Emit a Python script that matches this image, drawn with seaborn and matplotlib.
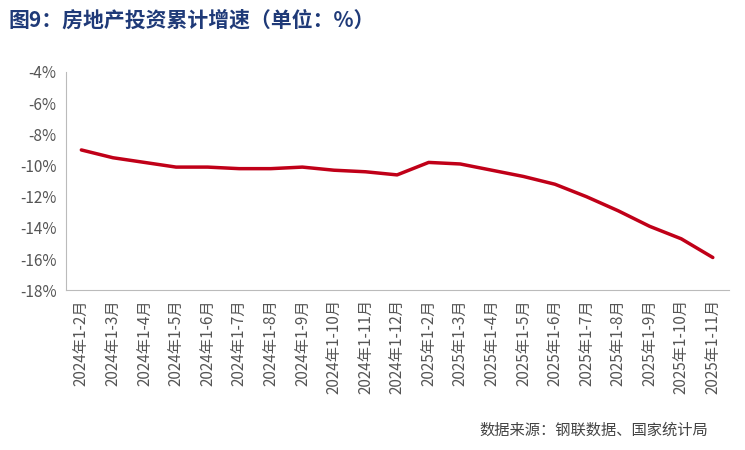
import matplotlib
matplotlib.use("Agg")
import matplotlib.pyplot as plt
import seaborn as sns
import pandas as pd

months = ["2024年1-2月","2024年1-3月","2024年1-4月","2024年1-5月","2024年1-6月","2024年1-7月",
          "2024年1-8月","2024年1-9月","2024年1-10月","2024年1-11月","2024年1-12月",
          "2025年1-2月","2025年1-3月","2025年1-4月","2025年1-5月","2025年1-6月","2025年1-7月",
          "2025年1-8月","2025年1-9月","2025年1-10月","2025年1-11月"]
values = [-9.0,-9.5,-9.8,-10.1,-10.1,-10.2,-10.2,-10.1,-10.3,-10.4,-10.6,
          -9.8,-9.9,-10.3,-10.7,-11.2,-12.0,-12.9,-13.9,-14.7,-15.9]
yticks = [-4,-6,-8,-10,-12,-14,-16,-18]

sns.set_style("white")
plt.rcParams['font.family'] = ['Noto Sans CJK SC', 'DejaVu Sans']

df = pd.DataFrame({"x": range(len(months)), "y": values})
fig = plt.figure(figsize=(7.45, 4.5), dpi=100)
ax = fig.add_axes([0.088, 0.355, 0.89, 0.485])
sns.lineplot(data=df, x="x", y="y", ax=ax, color="#c00018", linewidth=2.5)
ax.set_xlim(-0.5, len(months)-0.5)
ax.set_ylim(-18, -4)
ax.set_yticks(yticks)
ax.set_yticklabels([f"{t}%" for t in yticks], color="#555555", fontsize=11)
ax.set_xticks(range(len(months)))
ax.set_xticklabels(months, rotation=90, color="#555555", fontsize=11)
ax.set_xlabel(""); ax.set_ylabel("")
for s in ["top","right"]:
    ax.spines[s].set_visible(False)
ax.spines["left"].set_color("#bbbbbb")
ax.spines["bottom"].set_color("#bbbbbb")
ax.tick_params(axis="both", length=3, color="#bbbbbb")
fig.text(0.012, 0.955, "图9：房地产投资累计增速（单位：%）", fontsize=15, fontweight="bold",
         color="#1f3a78", va="center")
fig.text(0.95, 0.045, "数据来源：钢联数据、国家统计局", fontsize=11, color="#444444",
         ha="right", va="center")
fig.savefig("out.png", dpi=100)
